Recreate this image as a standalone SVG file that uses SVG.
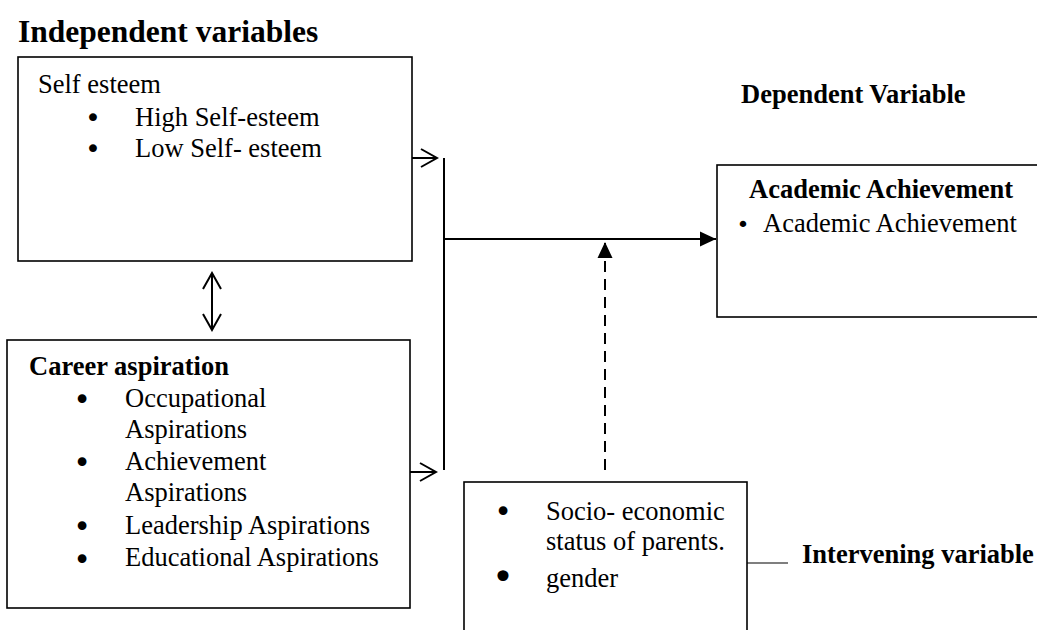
<svg xmlns="http://www.w3.org/2000/svg" width="1037" height="630" viewBox="0 0 1037 630">
<style>
text{font-family:"Liberation Serif","Times New Roman",serif;font-size:26.5px;fill:#000}
.b{font-weight:bold}
.t{font-size:31.5px;font-weight:bold}
.bul{text-anchor:middle;font-family:"DejaVu Sans",sans-serif;font-size:30px}
.box{fill:#fff;stroke:#000;stroke-width:1.6}
.ln{fill:none;stroke:#000;stroke-width:2}
</style>
<defs>
<marker id="open" viewBox="0 0 20 20" refX="18" refY="10" markerWidth="20" markerHeight="20" markerUnits="userSpaceOnUse" orient="auto-start-reverse">
<path d="M2,1 L18,10 L2,19" fill="none" stroke="#000" stroke-width="2"/>
</marker>
<marker id="solid" viewBox="0 0 16 16" refX="16" refY="8" markerWidth="16" markerHeight="16" markerUnits="userSpaceOnUse" orient="auto">
<path d="M0,0.5 L16,8 L0,15.5 Z" fill="#000"/>
</marker>
</defs>
<rect width="1037" height="630" fill="#fff"/>
<text class="t" x="18" y="42">Independent variables</text>
<g id="self-esteem">
<rect class="box" x="18" y="57" width="394" height="204"/>
<text x="38" y="93">Self esteem</text>
<text class="bul" x="93" y="127" style="font-size:27px">•</text>
<text x="135" y="126">High Self-esteem</text>
<text class="bul" x="93" y="158" style="font-size:27px">•</text>
<text x="135" y="157">Low Self- esteem</text>
</g>
<g id="career-aspiration">
<rect class="box" x="7" y="340" width="403" height="268"/>
<text class="b" x="29" y="375">Career aspiration</text>
<text class="bul" x="82" y="410">•</text>
<text x="125" y="407">Occupational</text>
<text x="125" y="438">Aspirations</text>
<text class="bul" x="82" y="473">•</text>
<text x="125" y="470">Achievement</text>
<text x="125" y="501">Aspirations</text>
<text class="bul" x="82" y="537">•</text>
<text x="125" y="534">Leadership Aspirations</text>
<text class="bul" x="82" y="570">•</text>
<text x="125" y="566">Educational Aspirations</text>
</g>
<g id="dependent">
<text class="b" x="741" y="103">Dependent Variable</text>
<rect class="box" x="717" y="165" width="340" height="152"/>
<text class="b" x="749" y="198">Academic Achievement</text>
<text class="bul" x="743" y="232" style="font-size:22px">•</text>
<text x="763" y="232">Academic Achievement</text>
</g>
<g id="intervening">
<rect class="box" x="464" y="482" width="283" height="170"/>
<text class="bul" x="503" y="522">•</text>
<text x="546" y="520">Socio- economic</text>
<text x="546" y="550">status of parents.</text>
<text class="bul" x="503" y="590" style="font-size:38px">•</text>
<text x="546" y="587">gender</text>
<text class="b" x="802" y="563">Intervening variable</text>
</g>
<g id="connectors">
<line class="ln" x1="412" y1="158" x2="437" y2="158" marker-end="url(#open)"/>
<line class="ln" x1="410" y1="472" x2="436" y2="472" marker-end="url(#open)"/>
<line class="ln" x1="444" y1="158" x2="444" y2="470"/>
<line class="ln" x1="444" y1="239" x2="716" y2="239" marker-end="url(#solid)"/>
<line class="ln" x1="605" y1="470" x2="605" y2="242" stroke-dasharray="11 7" marker-end="url(#solid)"/>
<line class="ln" x1="212" y1="273" x2="212" y2="330" marker-start="url(#open)" marker-end="url(#open)"/>
<line x1="747" y1="563" x2="788" y2="563" stroke="#000" stroke-width="1.2"/>
</g>
</svg>
